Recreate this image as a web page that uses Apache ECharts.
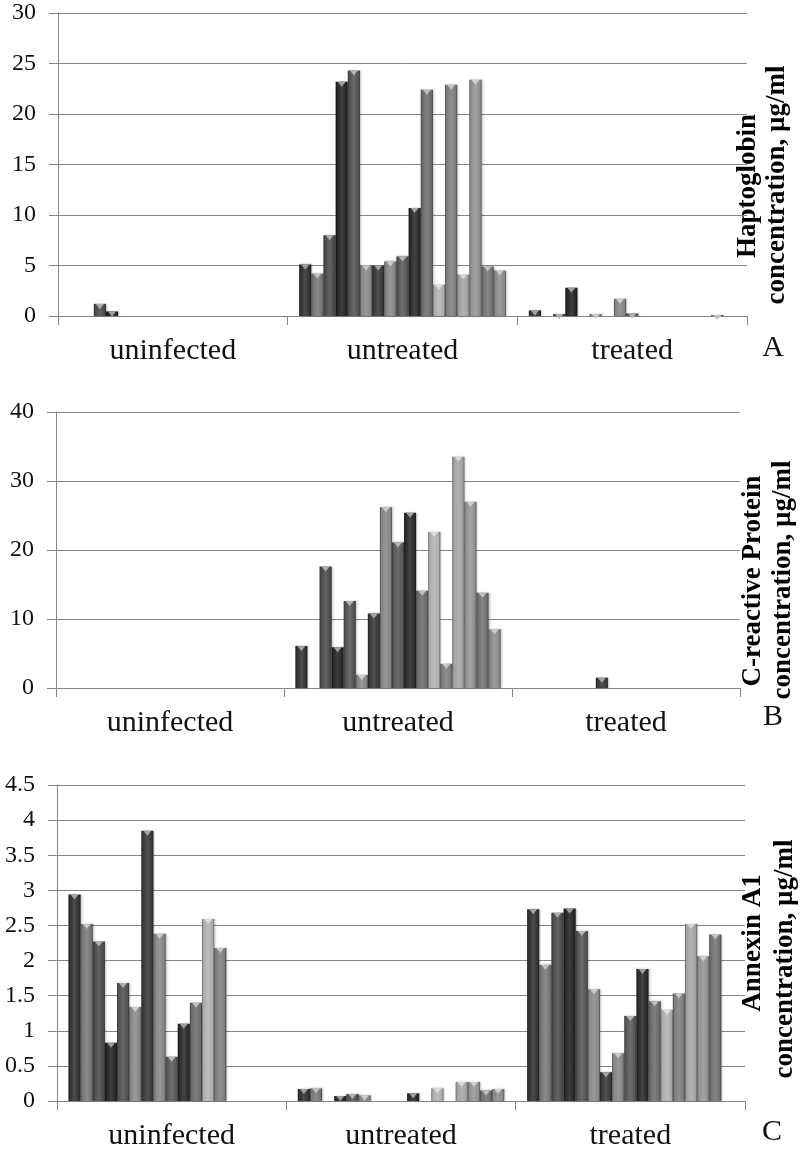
<!DOCTYPE html>
<html><head><meta charset="utf-8">
<script src="https://cdn.jsdelivr.net/npm/echarts@6/dist/echarts.min.js"></script>
<style>html,body{margin:0;padding:0;background:#fff}#c{width:800px;height:1151px}</style>
</head><body><div id="c"></div>
<script>
// ---------- data ----------
const categories = ['uninfected', 'untreated', 'treated'];

// Panel A: Haptoglobin concentration (µg/ml), 17 series per group
const haptoUninfected = [0, 0, 1.2, 0.45, 0, 0, 0, 0, 0, 0, 0, 0, 0, 0, 0, 0, 0];
const haptoUntreated  = [5.1, 4.2, 8.0, 23.2, 24.3, 5.0, 5.0, 5.4, 5.9, 10.7, 22.4, 3.1, 22.9, 4.1, 23.4, 4.9, 4.5];
const haptoTreated    = [0.55, 0, 0.2, 2.8, 0, 0.2, 0, 1.7, 0.25, 0, 0, 0, 0, 0, 0, 0.1, 0];

// Panel B: C-reactive Protein concentration (µg/ml)
const crpUninfected = [0, 0, 0, 0, 0, 0, 0, 0, 0, 0, 0, 0, 0, 0, 0, 0, 0];
const crpUntreated  = [6.1, 0, 17.6, 5.9, 12.6, 1.9, 10.8, 26.2, 21.1, 25.4, 14.1, 22.6, 3.5, 33.5, 27.0, 13.8, 8.5];
const crpTreated    = [0, 0, 0, 0, 0, 0, 1.5, 0, 0, 0, 0, 0, 0, 0, 0, 0, 0];

// Panel C: Annexin A1 concentration (µg/ml)
const annexinUninfected = [2.94, 2.52, 2.27, 0.83, 1.68, 1.34, 3.85, 2.38, 0.63, 1.10, 1.40, 2.59, 2.18, 0, 0, 0, 0];
const annexinUntreated  = [0.17, 0.18, 0, 0.07, 0.10, 0.08, 0, 0, 0, 0.11, 0, 0.18, 0, 0.27, 0.27, 0.15, 0.17];
const annexinTreated    = [2.73, 1.94, 2.68, 2.74, 2.42, 1.59, 0.41, 0.68, 1.21, 1.88, 1.42, 1.30, 1.53, 2.52, 2.06, 2.37, 0];

// y axis ticks [min, max, interval]
const ticksA = [0, 30, 5];
const ticksB = [0, 40, 10];
const ticksC = [0, 4.5, 0.5];

const titleA = ['Haptoglobin', 'concentration, µg/ml'];
const titleB = ['C-reactive Protein', 'concentration, µg/ml'];
const titleC = ['Annexin A1', 'concentration, µg/ml'];
const letters = ['A', 'B', 'C'];

// ---------- style ----------
const palette = ['#333333', '#7a7a7a', '#4d4d4d', '#262626', '#555555', '#8c8c8c', '#3a3a3a', '#8a8a8a',
  '#5a5a5a', '#2b2b2b', '#6e6e6e', '#b4b4b4', '#808080', '#a8a8a8', '#969696', '#747474', '#8f8f8f'];
const SERIF = '"Liberation Serif", "DejaVu Serif", serif';

function shade(hex, f) {
  const n = parseInt(hex.slice(1), 16);
  let r = (n >> 16) & 255, g = (n >> 8) & 255, b = n & 255;
  const fn = v => Math.max(0, Math.min(255, Math.round(f >= 0 ? v + (255 - v) * f : v * (1 + f))));
  return 'rgb(' + fn(r) + ',' + fn(g) + ',' + fn(b) + ')';
}
function barGrad(c) {
  return new echarts.graphic.LinearGradient(0, 0, 1, 0, [
    { offset: 0, color: shade(c, -0.45) },
    { offset: 0.12, color: shade(c, -0.05) },
    { offset: 0.5, color: shade(c, 0.12) },
    { offset: 0.88, color: shade(c, -0.05) },
    { offset: 1, color: shade(c, -0.45) }
  ]);
}

const panels = [
  { groups: [haptoUninfected, haptoUntreated, haptoTreated], ticks: ticksA, title: titleA,
    grid: { left: 58, top: 13, width: 689, height: 303 },
    t1: [748, 186], t2: [777, 185], letter: [773, 348] },
  { groups: [crpUninfected, crpUntreated, crpTreated], ticks: ticksB, title: titleB,
    grid: { left: 56, top: 412, width: 684, height: 276 },
    t1: [753, 581], t2: [783, 580], letter: [773, 717] },
  { groups: [annexinUninfected, annexinUntreated, annexinTreated], ticks: ticksC, title: titleC,
    grid: { left: 57, top: 785, width: 688, height: 316 },
    t1: [753, 943], t2: [785, 959], letter: [772, 1132] }
];

const grids = [], xAxes = [], yAxes = [], series = [], graphics = [];
panels.forEach((p, pi) => {
  grids.push(p.grid);
  xAxes.push({
    type: 'category', gridIndex: pi, data: categories,
    axisLine: { lineStyle: { color: '#858585', width: 1 } },
    axisTick: { show: true, length: 9, lineStyle: { color: '#858585' } },
    axisLabel: { interval: 0, margin: 20, fontFamily: SERIF, fontSize: 30, color: '#111' }
  });
  yAxes.push({
    type: 'value', gridIndex: pi, min: p.ticks[0], max: p.ticks[1], interval: p.ticks[2],
    axisLine: { show: true, lineStyle: { color: '#858585', width: 1 } },
    axisTick: { show: true, length: 9, lineStyle: { color: '#858585' } },
    splitLine: { lineStyle: { color: '#858585', width: 1 } },
    axisLabel: { margin: 22, fontFamily: SERIF, fontSize: 24, color: '#111' }
  });
  for (let s = 0; s < 17; s++) {
    const vals = p.groups.map(g => g[s]);
    const c = palette[s];
    series.push({
      type: 'bar', xAxisIndex: pi, yAxisIndex: pi, barGap: '0%', barCategoryGap: '10%',
      data: vals, silent: true, animation: false,
      itemStyle: { color: barGrad(c), shadowColor: 'rgba(0,0,0,0.25)', shadowBlur: 2, shadowOffsetX: 1 }
    });
    series.push({
      type: 'pictorialBar', xAxisIndex: pi, yAxisIndex: pi, barGap: '0%', barCategoryGap: '10%',
      data: vals.map(v => (v > 0 ? v : '-')), silent: true, animation: false, z: 3,
      symbol: 'triangle', symbolRotate: 180, symbolSize: [8, 5], symbolPosition: 'end',
      itemStyle: { color: shade(c, 0.55) }
    });
  }
  graphics.push({ type: 'text', x: p.t1[0], y: p.t1[1], rotation: Math.PI / 2,
    style: { text: p.title[0], font: 'bold 27px ' + SERIF, fill: '#000', align: 'center', verticalAlign: 'middle' } });
  graphics.push({ type: 'text', x: p.t2[0], y: p.t2[1], rotation: Math.PI / 2,
    style: { text: p.title[1], font: 'bold 27px ' + SERIF, fill: '#000', align: 'center', verticalAlign: 'middle' } });
  graphics.push({ type: 'text', x: p.letter[0], y: p.letter[1],
    style: { text: letters[pi], font: '30px ' + SERIF, fill: '#111', align: 'center', verticalAlign: 'middle' } });
});

const chart = echarts.init(document.getElementById('c'), null, { renderer: 'canvas' });
chart.setOption({
  backgroundColor: '#ffffff',
  animation: false,
  grid: grids, xAxis: xAxes, yAxis: yAxes, series: series, graphic: graphics
});
</script>
</body></html>
